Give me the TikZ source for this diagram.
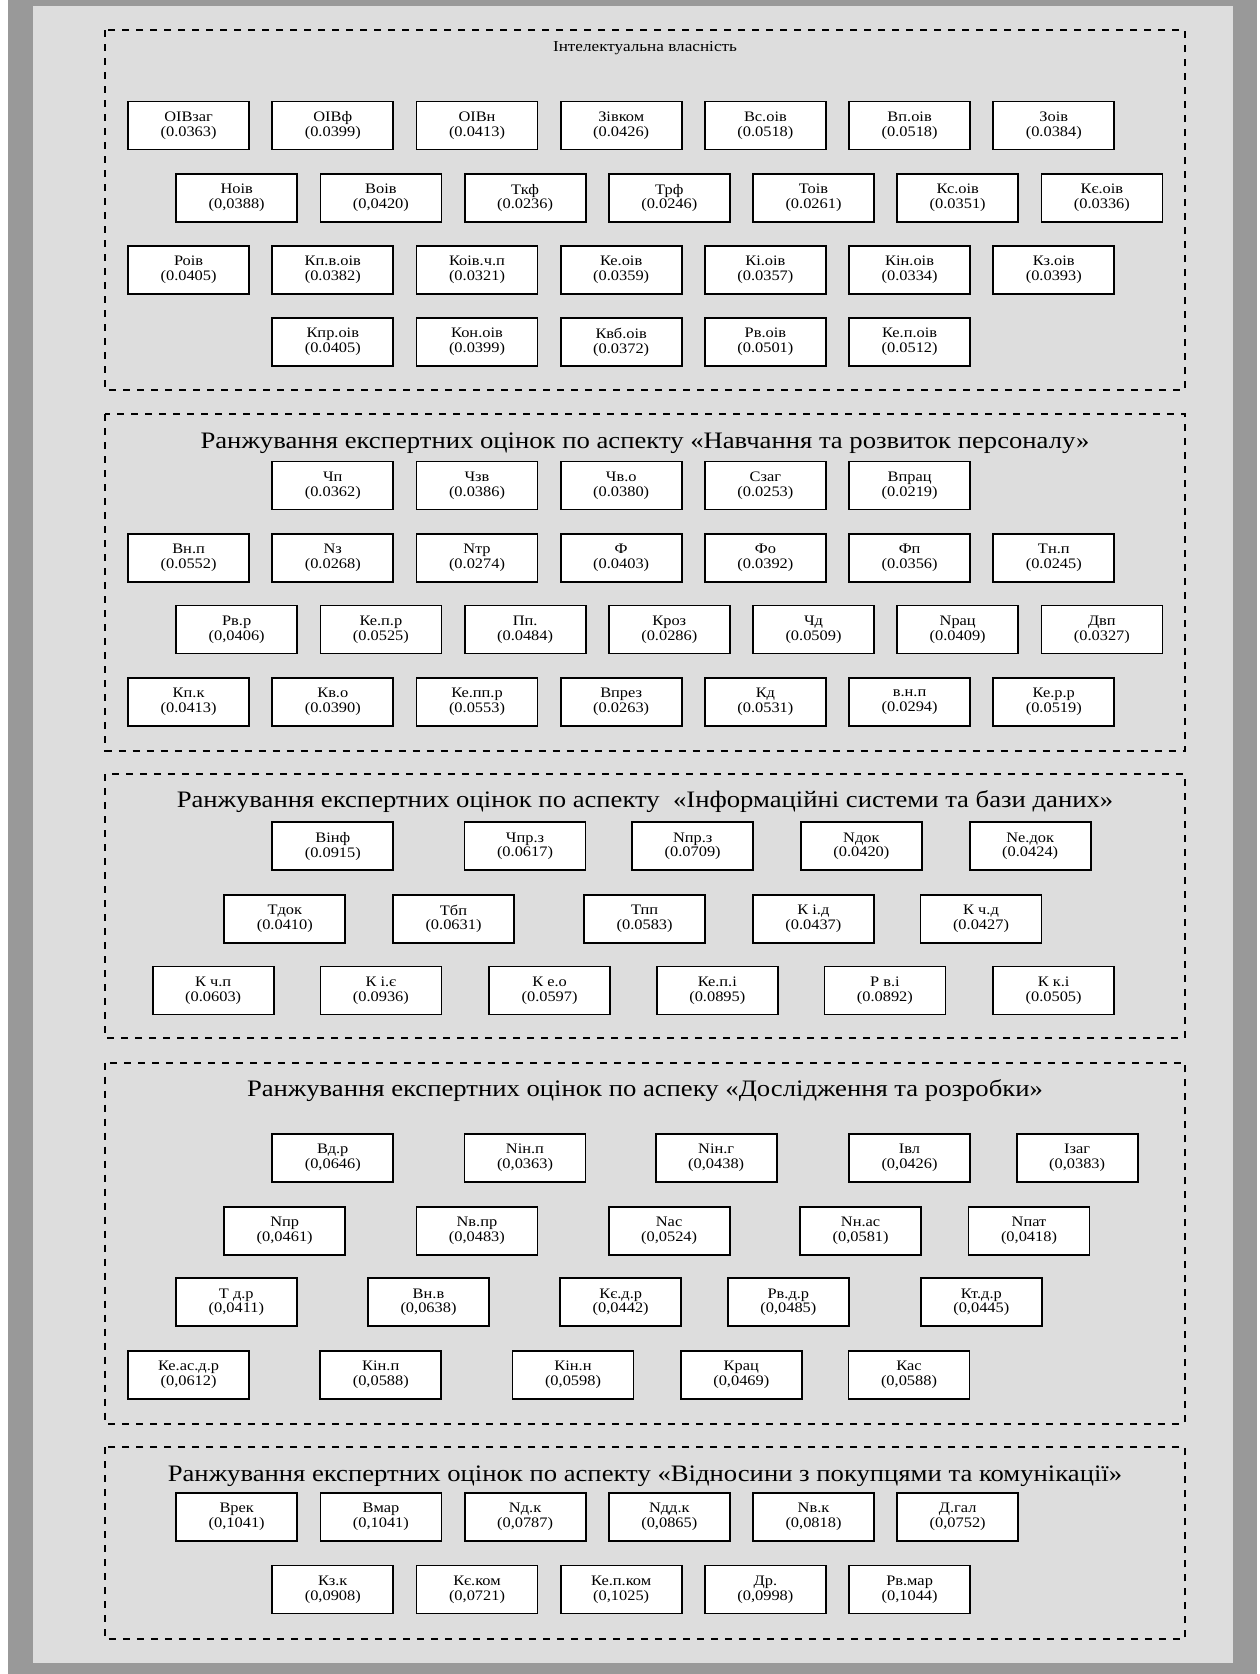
\documentclass[tikz,border=0pt]{standalone}
\usepackage{fontspec}
\setmainfont{Liberation Serif}[FakeStretch=1.13]
\definecolor{outergray}{HTML}{999999}
\definecolor{pagegray}{HTML}{DDDDDD}
\tikzset{
  cell/.style={draw=black, line width=1.8pt, fill=white, minimum width=121pt, minimum height=48pt,
    inner sep=0pt, align=center, font=\fontsize{14.5pt}{14.8pt}\selectfont},
  frame/.style={draw=black, line width=2pt, dash pattern=on 7pt off 7pt},
  bigtitle/.style={inner sep=0pt, font=\fontsize{23.6pt}{25pt}\selectfont},
  smalltitle/.style={inner sep=0pt, font=\fontsize{15.2pt}{16pt}\selectfont}
}
\newcommand\bx[5]{\node[cell] (#1) at (#2,#3) {#4\\#5};}
\begin{document}
\begin{tikzpicture}[x=1pt,y=-1pt]
\useasboundingbox (0,0) rectangle (1259,1674);
\fill[white] (0,0) rectangle (1259,1674);
\fill[outergray] (8,0) rectangle (1257,1674);
\fill[pagegray] (33,6) rectangle (1233,1663);

% ---------- Section 1 ----------
\draw[frame] (105,30) rectangle (1185,390);
\node[smalltitle] (t1) at (645,48) {Інтелектуальна власність};
\bx{a1}{188.6}{125.5}{ОІВзаг}{(0.0363)}
\bx{a2}{332.8}{125.5}{ОІВф}{(0.0399)}
\bx{a3}{477.0}{125.5}{ОІВн}{(0.0413)}
\bx{a4}{621.2}{125.5}{Зівком}{(0.0426)}
\bx{a5}{765.4}{125.5}{Вс.оів}{(0.0518)}
\bx{a6}{909.6}{125.5}{Вп.оів}{(0.0518)}
\bx{a7}{1053.8}{125.5}{Зоів}{(0.0384)}
\bx{b1}{236.7}{198}{Ноів}{(0,0388)}
\bx{b2}{380.9}{198}{Воів}{(0,0420)}
\bx{b3}{525.1}{198}{Ткф}{(0.0236)}
\bx{b4}{669.3}{198}{Трф}{(0.0246)}
\bx{b5}{813.5}{198}{Тоів}{(0.0261)}
\bx{b6}{957.7}{198}{Кс.оів}{(0.0351)}
\bx{b7}{1101.9}{198}{Кє.оів}{(0.0336)}
\bx{c1}{188.6}{269.7}{Роів}{(0.0405)}
\bx{c2}{332.8}{269.7}{Кп.в.оів}{(0.0382)}
\bx{c3}{477.0}{269.7}{Коів.ч.п}{(0.0321)}
\bx{c4}{621.2}{269.7}{Ке.оів}{(0.0359)}
\bx{c5}{765.4}{269.7}{Кі.оів}{(0.0357)}
\bx{c6}{909.6}{269.7}{Кін.оів}{(0.0334)}
\bx{c7}{1053.8}{269.7}{Кз.оів}{(0.0393)}
\bx{d1}{332.8}{342}{Кпр.оів}{(0.0405)}
\bx{d2}{477.0}{342}{Кон.оів}{(0.0399)}
\bx{d3}{621.2}{342}{Квб.оів}{(0.0372)}
\bx{d4}{765.4}{342}{Рв.оів}{(0.0501)}
\bx{d5}{909.6}{342}{Ке.п.оів}{(0.0512)}

% ---------- Section 2 ----------
\draw[frame] (105,414.3) rectangle (1185,750.7);
\node[bigtitle] (t2) at (645,443) {Ранжування експертних оцінок по аспекту «Навчання та розвиток персоналу»};
\bx{e1}{332.8}{485.4}{Чп}{(0.0362)}
\bx{e2}{477.0}{485.4}{Чзв}{(0.0386)}
\bx{e3}{621.2}{485.4}{Чв.о}{(0.0380)}
\bx{e4}{765.4}{485.4}{Сзаг}{(0.0253)}
\bx{e5}{909.6}{485.4}{Впрац}{(0.0219)}
\bx{f1}{188.6}{558}{Вн.п}{(0.0552)}
\bx{f2}{332.8}{558}{Nз}{(0.0268)}
\bx{f3}{477.0}{558}{Nтр}{(0.0274)}
\bx{f4}{621.2}{558}{Ф}{(0.0403)}
\bx{f5}{765.4}{558}{Фо}{(0.0392)}
\bx{f6}{909.6}{558}{Фп}{(0.0356)}
\bx{f7}{1053.8}{558}{Тн.п}{(0.0245)}
\bx{g1}{236.7}{629.5}{Рв.р}{(0,0406)}
\bx{g2}{380.9}{629.5}{Ке.п.р}{(0.0525)}
\bx{g3}{525.1}{629.5}{Пп.}{(0.0484)}
\bx{g4}{669.3}{629.5}{Кроз}{(0.0286)}
\bx{g5}{813.5}{629.5}{Чд}{(0.0509)}
\bx{g6}{957.7}{629.5}{Nрац}{(0.0409)}
\bx{g7}{1101.9}{629.5}{Двп}{(0.0327)}
\bx{h1}{188.6}{702}{Кп.к}{(0.0413)}
\bx{h2}{332.8}{702}{Кв.о}{(0.0390)}
\bx{h3}{477.0}{702}{Ке.пп.р}{(0.0553)}
\bx{h4}{621.2}{702}{Впрез}{(0.0263)}
\bx{h5}{765.4}{702}{Кд}{(0.0531)}
\bx{h6}{909.6}{702}{в.н.п}{(0.0294)}
\bx{h7}{1053.8}{702}{Ке.р.р}{(0.0519)}

% ---------- Section 3 ----------
\draw[frame] (105,774.2) rectangle (1185,1038);
\node[bigtitle] (t3) at (645,802) {Ранжування експертних оцінок по аспекту~~«Інформаційні системи та бази даних»};
\bx{i1}{332.8}{846.3}{Вінф}{(0.0915)}
\bx{i2}{525.0}{846.3}{Чпр.з}{(0.0617)}
\bx{i3}{692.7}{846.3}{Nпр.з}{(0.0709)}
\bx{i4}{861.4}{846.3}{Nдок}{(0.0420)}
\bx{i5}{1030.2}{846.3}{Ne.док}{(0.0424)}
\bx{j1}{284.8}{918.9}{Тдок}{(0.0410)}
\bx{j2}{453.5}{918.9}{Тбп}{(0.0631)}
\bx{j3}{644.6}{918.9}{Тпп}{(0.0583)}
\bx{j4}{813.4}{918.9}{К і.д}{(0.0437)}
\bx{j5}{981.0}{918.9}{К ч.д}{(0.0427)}
\bx{k1}{213.2}{990.5}{К ч.п}{(0.0603)}
\bx{k2}{380.9}{990.5}{К і.є}{(0.0936)}
\bx{k3}{549.6}{990.5}{К е.о}{(0.0597)}
\bx{k4}{717.3}{990.5}{Ке.п.і}{(0.0895)}
\bx{k5}{884.9}{990.5}{Р в.і}{(0.0892)}
\bx{k6}{1053.6}{990.5}{К к.і}{(0.0505)}

% ---------- Section 4 ----------
\draw[frame] (105,1062.6) rectangle (1185,1423.5);
\node[bigtitle] (t4) at (645,1090.3) {Ранжування експертних оцінок по аспеку «Дослідження та розробки»};
\bx{l1}{332.8}{1158.1}{Вд.р}{(0,0646)}
\bx{l2}{525.0}{1158.1}{Nін.п}{(0,0363)}
\bx{l3}{716.2}{1158.1}{Nін.г}{(0,0438)}
\bx{l4}{909.5}{1158.1}{Івл}{(0,0426)}
\bx{l5}{1077.1}{1158.1}{Ізаг}{(0,0383)}
\bx{m1}{284.7}{1230.7}{Nпр}{(0,0461)}
\bx{m2}{476.9}{1230.7}{Nв.пр}{(0,0483)}
\bx{m3}{669.1}{1230.7}{Nас}{(0,0524)}
\bx{m4}{860.6}{1230.7}{Nн.ас}{(0,0581)}
\bx{m5}{1029.0}{1230.7}{Nпат}{(0,0418)}
\bx{n1}{236.3}{1302.3}{Т д.р}{(0,0411)}
\bx{n2}{428.5}{1302.3}{Вн.в}{(0,0638)}
\bx{n3}{620.7}{1302.3}{Кє.д.р}{(0,0442)}
\bx{n4}{788.4}{1302.3}{Рв.д.р}{(0,0485)}
\bx{n5}{981.3}{1302.3}{Кт.д.р}{(0,0445)}
\bx{o1}{188.6}{1374.9}{Ке.ас.д.р}{(0,0612)}
\bx{o2}{380.8}{1374.9}{Кін.п}{(0,0588)}
\bx{o3}{573.0}{1374.9}{Кін.н}{(0,0598)}
\bx{o4}{741.3}{1374.9}{Крац}{(0,0469)}
\bx{o5}{909.0}{1374.9}{Кас}{(0,0588)}

% ---------- Section 5 ----------
\draw[frame] (105,1447) rectangle (1185,1639.2);
\node[bigtitle] (t5) at (645,1475.8) {Ранжування експертних оцінок по аспекту «Відносини з покупцями та комунікації»};
\bx{p1}{236.7}{1516.9}{Врек}{(0,1041)}
\bx{p2}{380.9}{1516.9}{Вмар}{(0,1041)}
\bx{p3}{525.1}{1516.9}{Nд.к}{(0,0787)}
\bx{p4}{669.3}{1516.9}{Nдд.к}{(0,0865)}
\bx{p5}{813.5}{1516.9}{Nв.к}{(0,0818)}
\bx{p6}{957.7}{1516.9}{Д.гал}{(0,0752)}
\bx{q1}{332.8}{1589.5}{Кз.к}{(0,0908)}
\bx{q2}{477.0}{1589.5}{Кє.ком}{(0,0721)}
\bx{q3}{621.2}{1589.5}{Ке.п.ком}{(0,1025)}
\bx{q4}{765.4}{1589.5}{Др.}{(0,0998)}
\bx{q5}{909.6}{1589.5}{Рв.мар}{(0,1044)}
\end{tikzpicture}
\end{document}
